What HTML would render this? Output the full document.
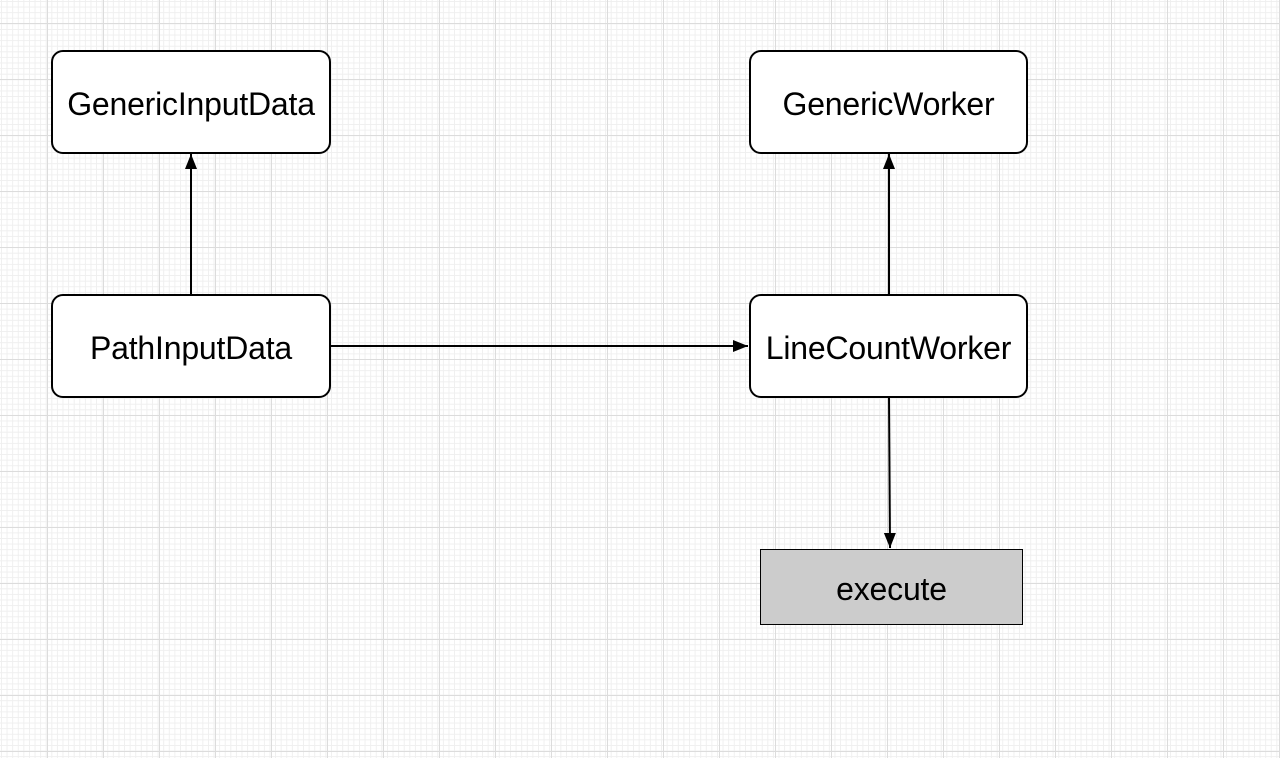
<!DOCTYPE html>
<html><head><style>
html,body{margin:0;padding:0}
body{width:1280px;height:758px;position:relative;overflow:hidden;background-color:#fff;
background-image:
linear-gradient(#dcdcdc 1px,transparent 1px),
linear-gradient(90deg,#dcdcdc 1px,transparent 1px),
linear-gradient(#efefef 1px,transparent 1px),
linear-gradient(90deg,#efefef 1px,transparent 1px);
background-size:56px 56px,56px 56px,5.6px 5.6px,5.6px 5.6px;
background-position:0 23px,47px 0,0 1px,1px 0;
font-family:"Liberation Sans",sans-serif}
.n{position:absolute;box-sizing:border-box;border:2px solid #000;border-radius:12px;background:#fff;display:flex;align-items:center;justify-content:center;font-size:32px;color:#000;padding-top:4px;letter-spacing:-0.2px}
</style></head><body>
<svg width="1280" height="758" style="position:absolute;left:0;top:0">
<defs><marker id="a" markerWidth="16" markerHeight="14" refX="15" refY="7" orient="auto" markerUnits="userSpaceOnUse"><path d="M0,1 L15,7 L0,13 z" fill="#000"/></marker></defs>
<g stroke="#000" stroke-width="2" fill="none">
<line x1="191" y1="295" x2="191" y2="154" marker-end="url(#a)"/>
<line x1="889" y1="295" x2="889" y2="154" marker-end="url(#a)"/>
<line x1="331" y1="346" x2="748" y2="346" marker-end="url(#a)"/>
<line x1="889" y1="397" x2="890" y2="548" marker-end="url(#a)"/>
</g></svg>
<div class="n" style="left:51px;top:50px;width:280px;height:104px">GenericInputData</div>
<div class="n" style="left:749px;top:50px;width:279px;height:104px">GenericWorker</div>
<div class="n" style="left:51px;top:294px;width:280px;height:104px">PathInputData</div>
<div class="n" style="left:749px;top:294px;width:279px;height:104px">LineCountWorker</div>
<div class="n" style="left:760px;top:549px;width:263px;height:76px;border-radius:0;background:#ccc;border-width:1.5px">execute</div>
</body></html>
